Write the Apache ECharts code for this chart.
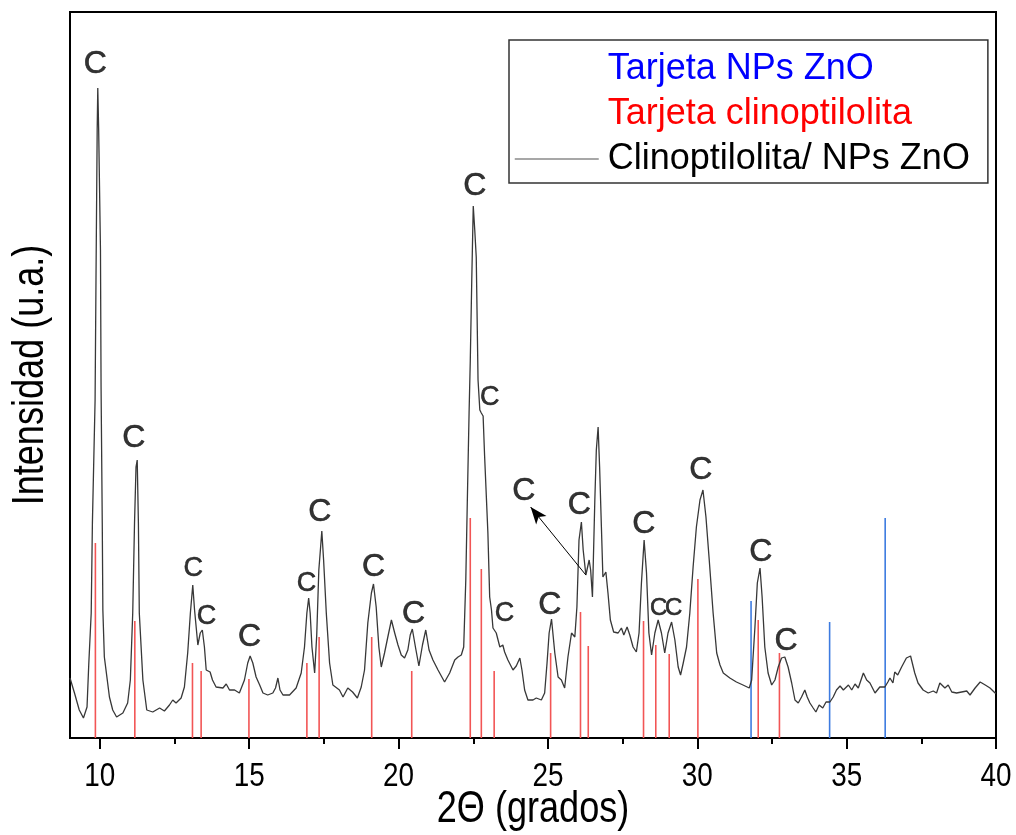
<!DOCTYPE html>
<html>
<head>
<meta charset="utf-8">
<script src="https://cdn.jsdelivr.net/npm/echarts@6/dist/echarts.min.js"></script>
<style>
html, body { margin: 0; padding: 0; background: #fff; }
#chart { width: 1016px; height: 835px; }
</style>
</head>
<body>
<div id="chart"></div>
<script>
// XRD pattern of clinoptilolite loaded with ZnO nanoparticles
const twoTheta = [
  9.00, 9.04, 9.15, 9.31, 9.45, 9.57, 9.63, 9.71, 9.75, 9.84, 9.87, 9.91, 9.93, 9.96,
  10.02, 10.04, 10.08, 10.10, 10.15, 10.32, 10.43, 10.56, 10.77, 10.93, 11.02, 11.10,
  11.16, 11.21, 11.25, 11.29, 11.32, 11.44, 11.57, 11.77, 12.00, 12.16, 12.33, 12.44,
  12.55, 12.72, 12.83, 12.94, 13.03, 13.11, 13.17, 13.28, 13.36, 13.43, 13.50, 13.56,
  13.69, 13.77, 13.89, 14.12, 14.23, 14.34, 14.51, 14.67, 14.84, 14.95, 15.03, 15.12,
  15.23, 15.35, 15.46, 15.62, 15.79, 15.88, 15.96, 16.03, 16.13, 16.35, 16.57, 16.74,
  16.85, 16.93, 16.99, 17.04, 17.10, 17.19, 17.26, 17.33, 17.39, 17.43, 17.49, 17.58,
  17.69, 17.80, 18.02, 18.14, 18.30, 18.46, 18.62, 18.75, 18.86, 18.97, 19.09, 19.16,
  19.25, 19.34, 19.42, 19.53, 19.64, 19.76, 19.87, 19.98, 20.09, 20.20, 20.31, 20.39,
  20.46, 20.57, 20.68, 20.80, 20.91, 21.02, 21.15, 21.32, 21.54, 21.71, 21.88, 21.99,
  22.10, 22.18, 22.25, 22.30, 22.36, 22.40, 22.45, 22.50, 22.55, 22.60, 22.66, 22.72,
  22.77, 22.83, 22.88, 22.99, 23.05, 23.11, 23.16, 23.27, 23.39, 23.49, 23.55, 23.66,
  23.83, 23.94, 24.06, 24.13, 24.22, 24.33, 24.50, 24.61, 24.78, 24.89, 24.97, 25.04,
  25.12, 25.23, 25.34, 25.45, 25.56, 25.67, 25.79, 25.90, 25.97, 26.04, 26.12, 26.18,
  26.27, 26.38, 26.43, 26.49, 26.57, 26.62, 26.68, 26.73, 26.79, 26.84, 26.94, 27.01,
  27.09, 27.20, 27.35, 27.46, 27.54, 27.65, 27.74, 27.85, 27.96, 28.05, 28.13, 28.22,
  28.30, 28.38, 28.47, 28.58, 28.69, 28.80, 28.91, 29.02, 29.14, 29.25, 29.36, 29.44,
  29.53, 29.64, 29.75, 29.86, 29.97, 30.09, 30.19, 30.29, 30.40, 30.53, 30.65, 30.76,
  30.87, 31.09, 31.31, 31.53, 31.74, 31.82, 31.93, 32.01, 32.10, 32.17, 32.26, 32.37,
  32.49, 32.60, 32.71, 32.82, 32.93, 33.04, 33.16, 33.27, 33.38, 33.49, 33.60, 33.68,
  33.77, 33.88, 33.97, 34.08, 34.20, 34.31, 34.44, 34.55, 34.66, 34.78, 34.89, 35.06,
  35.17, 35.28, 35.39, 35.56, 35.67, 35.78, 35.95, 36.11, 36.28, 36.38, 36.45, 36.55,
  36.61, 36.71, 36.84, 37.00, 37.14, 37.28, 37.39, 37.56, 37.73, 37.90, 38.01, 38.12,
  38.29, 38.40, 38.52, 38.68, 38.85, 39.02, 39.13, 39.30, 39.47, 39.64, 39.80, 39.97,
  40.00
];
const intensity = [
  60, 58, 45, 28, 20, 31, 75, 125, 215, 338, 458, 608, 650, 608,
  488, 351, 215, 128, 81, 41, 28, 21, 25, 35, 58, 125,
  215, 271, 278, 215, 125, 58, 28, 26, 30, 27, 33, 38,
  35, 40, 51, 85, 125, 153, 128, 93, 105, 108, 91, 68,
  66, 58, 51, 50, 54, 48, 48, 45, 58, 75, 82, 75,
  61, 53, 45, 43, 45, 50, 60, 48, 43, 43, 50, 65,
  91, 125, 140, 125, 91, 65, 103, 168, 191, 207, 178, 125,
  75, 53, 48, 41, 50, 46, 40, 51, 68, 115, 145, 154,
  131, 91, 71, 85, 101, 118, 105, 93, 83, 80, 88, 103,
  109, 90, 72, 93, 108, 88, 78, 68, 56, 65, 78, 81,
  83, 91, 158, 235, 325, 377, 458, 532, 508, 481, 358, 328,
  325, 322, 282, 205, 141, 128, 110, 105, 91, 93, 86, 78,
  68, 72, 80, 68, 48, 38, 38, 40, 38, 45, 75, 105,
  119, 85, 61, 58, 50, 81, 105, 101, 131, 198, 216, 188,
  163, 178, 168, 141, 238, 288, 311, 271, 211, 161, 166, 145,
  118, 106, 105, 110, 103, 111, 103, 91, 86, 105, 155, 198,
  165, 105, 83, 105, 118, 105, 85, 105, 116, 98, 71, 63,
  75, 91, 125, 171, 211, 238, 248, 221, 178, 125, 85, 73,
  65, 60, 56, 53, 50, 58, 111, 155, 170, 141, 91, 65,
  53, 58, 71, 80, 81, 71, 55, 38, 35, 41, 48, 41,
  35, 30, 26, 33, 30, 36, 36, 41, 48, 52, 48, 53,
  48, 54, 50, 65, 58, 55, 45, 51, 51, 56, 60, 55,
  66, 63, 71, 80, 82, 65, 55, 48, 45, 47, 45, 55,
  50, 53, 46, 45, 46, 47, 43, 50, 56, 53, 50, 45,
  45
];

// Reference card reflections (stick patterns)
const znoCard2Theta = [31.80, 34.43, 36.29];
const znoCardIntensity = [137, 116, 220];
const clinoCard2Theta = [9.85, 11.17, 13.10, 13.39, 14.99, 16.93, 17.34, 19.10, 20.44, 22.40,
  22.77, 23.20, 25.09, 26.09, 26.35, 28.20, 28.61, 29.06, 30.02, 32.04, 32.75];
const clinoCardIntensity = [195, 117, 75, 67, 59, 75, 101, 101, 67, 220,
  169, 67, 85, 126, 92, 117, 93, 84, 159, 118, 85];

// Axis ticks and their labels
const xMajorTicks = [10, 15, 20, 25, 30, 35, 40];
const xMinorTicks = [12.5, 17.5, 22.5, 27.5, 32.5, 37.5];
const xTickLabels = ['10', '15', '20', '25', '30', '35', '40'];
const xTitle = '2Θ (grados)';
const yTitle = 'Intensidad (u.a.)';

// "C" (clinoptilolite) peak annotations, anchored in data space
const peakLabelLarge2Theta = [9.85, 11.14, 15.01, 17.36, 19.16, 20.50, 22.55, 24.19, 25.06, 26.05, 28.21, 30.12, 32.13, 32.97];
const peakLabelLargeIntensity = [674, 300, 101, 226, 171, 124, 552, 247, 133, 233, 214, 268, 186, 97];
const peakLabelSmall2Theta = [13.13, 13.57, 16.92, 23.05, 23.55];
const peakLabelSmallIntensity = [169, 121, 154, 340, 124];
const peakLabelTiny2Theta = [28.71, 29.21];
const peakLabelTinyIntensity = [130, 130];

// Arrow pointing from the 26.3° shoulder to its label
const arrowFrom = [26.27, 163];
const arrowTo = [24.42, 231];

const zip = (xs, ys) => xs.map((x, i) => [x, ys[i]]);

const SANS = "'Liberation Sans', Arial, sans-serif";
// Axis text is set in a condensed face; squeeze the regular face horizontally
const CONDENSE = 0.82;

const NAME_ZNO = 'Tarjeta NPs ZnO';
const NAME_CLINO = 'Tarjeta clinoptilolita';
const NAME_SAMPLE = 'Clinoptilolita/ NPs ZnO';

const labelSeries = (xs, ys, size) => ({
  type: 'scatter',
  data: zip(xs, ys),
  symbolSize: 1,
  itemStyle: { color: 'rgba(0,0,0,0)' },
  label: {
    show: true, position: 'inside', formatter: 'C',
    fontFamily: SANS, fontSize: size, color: '#000',
    textBorderColor: '#000', textBorderWidth: 0.6
  },
  silent: true,
  z: 5
});

const chart = echarts.init(document.getElementById('chart'), null, { renderer: 'canvas' });
chart.setOption({
  animation: false,
  grid: {
    left: 70, right: 20, top: 12, bottom: 97,
    show: true, borderColor: '#000', borderWidth: 2, backgroundColor: 'transparent'
  },
  legend: {
    orient: 'vertical',
    left: 509, top: 40,
    padding: [9, 18, 4, 5],
    itemGap: 5,
    itemWidth: 84, itemHeight: 14,
    borderColor: '#333', borderWidth: 1.5,
    backgroundColor: '#fff',
    selectedMode: false,
    textStyle: { fontFamily: SANS, fontSize: 36, lineHeight: 40, padding: [0, 0, 0, 4] },
    data: [
      { name: NAME_ZNO, itemStyle: { opacity: 0 }, lineStyle: { opacity: 0 }, textStyle: { color: '#0000ff' } },
      { name: NAME_CLINO, itemStyle: { opacity: 0 }, lineStyle: { opacity: 0 }, textStyle: { color: '#ff0000' } },
      { name: NAME_SAMPLE, itemStyle: { opacity: 0 }, lineStyle: { color: '#8a8a8a', width: 1.5 }, textStyle: { color: '#000' } }
    ]
  },
  xAxis: [
    {
      type: 'value', min: 9, max: 40, position: 'bottom',
      axisLine: { show: true, onZero: false, lineStyle: { color: '#000', width: 2 } },
      axisTick: { show: true, inside: false, length: 11, customValues: xMajorTicks, lineStyle: { color: '#000', width: 2 } },
      axisLabel: { show: false },
      splitLine: { show: false }
    },
    {
      type: 'value', min: 9, max: 40, position: 'bottom',
      axisLine: { show: false },
      axisTick: { show: true, inside: false, length: 6, customValues: xMinorTicks, lineStyle: { color: '#000', width: 2 } },
      axisLabel: { show: false },
      splitLine: { show: false }
    }
  ],
  yAxis: {
    type: 'value', min: 0, max: 726,
    axisLine: { show: true, lineStyle: { color: '#000', width: 2 } },
    axisTick: { show: false },
    axisLabel: { show: false },
    splitLine: { show: false }
  },
  series: [
    {
      name: NAME_CLINO, type: 'bar', xAxisIndex: 0,
      data: zip(clinoCard2Theta, clinoCardIntensity),
      barWidth: 1.6, barGap: '-100%',
      itemStyle: { color: '#f25555' },
      silent: true, z: 2
    },
    {
      name: NAME_ZNO, type: 'bar', xAxisIndex: 0,
      data: zip(znoCard2Theta, znoCardIntensity),
      barWidth: 1.6, barGap: '-100%',
      itemStyle: { color: '#3d7be0' },
      silent: true, z: 2
    },
    {
      name: NAME_SAMPLE, type: 'line', xAxisIndex: 0,
      data: zip(twoTheta, intensity),
      showSymbol: false, symbol: 'none',
      lineStyle: { color: '#383838', width: 1.3 },
      silent: true, z: 3,
      markLine: {
        silent: true,
        symbol: ['none', 'arrow'],
        symbolSize: [10, 17],
        label: { show: false },
        lineStyle: { color: '#000', width: 1, type: 'solid' },
        data: [[{ coord: arrowFrom }, { coord: arrowTo }]]
      }
    },
    labelSeries(peakLabelLarge2Theta, peakLabelLargeIntensity, 32),
    labelSeries(peakLabelSmall2Theta, peakLabelSmallIntensity, 27),
    labelSeries(peakLabelTiny2Theta, peakLabelTinyIntensity, 24)
  ]
});

// Axis labels and titles, placed through the axis scales, in a condensed setting
const axisY = chart.convertToPixel({ yAxisIndex: 0 }, 0);
const axisTop = chart.convertToPixel({ yAxisIndex: 0 }, 726);
const axisLeft = chart.convertToPixel({ xAxisIndex: 0 }, 9);
const axisRight = chart.convertToPixel({ xAxisIndex: 0 }, 40);
const textEl = (text, x, y, size, rotation) => ({
  type: 'text', x, y, rotation: rotation || 0, scaleX: CONDENSE, silent: true,
  style: { text, fontFamily: SANS, fontSize: size, fill: '#000', align: 'center', verticalAlign: 'middle' }
});
const graphics = xMajorTicks.map((v, i) =>
  textEl(xTickLabels[i], chart.convertToPixel({ xAxisIndex: 0 }, v), axisY + 39, 34));
graphics.push(textEl(xTitle, (axisLeft + axisRight) / 2, axisY + 72, 44));
graphics.push(textEl(yTitle, axisLeft - 39, (axisY + axisTop) / 2, 44, Math.PI / 2));
chart.setOption({ graphic: graphics });
</script>
</body>
</html>
